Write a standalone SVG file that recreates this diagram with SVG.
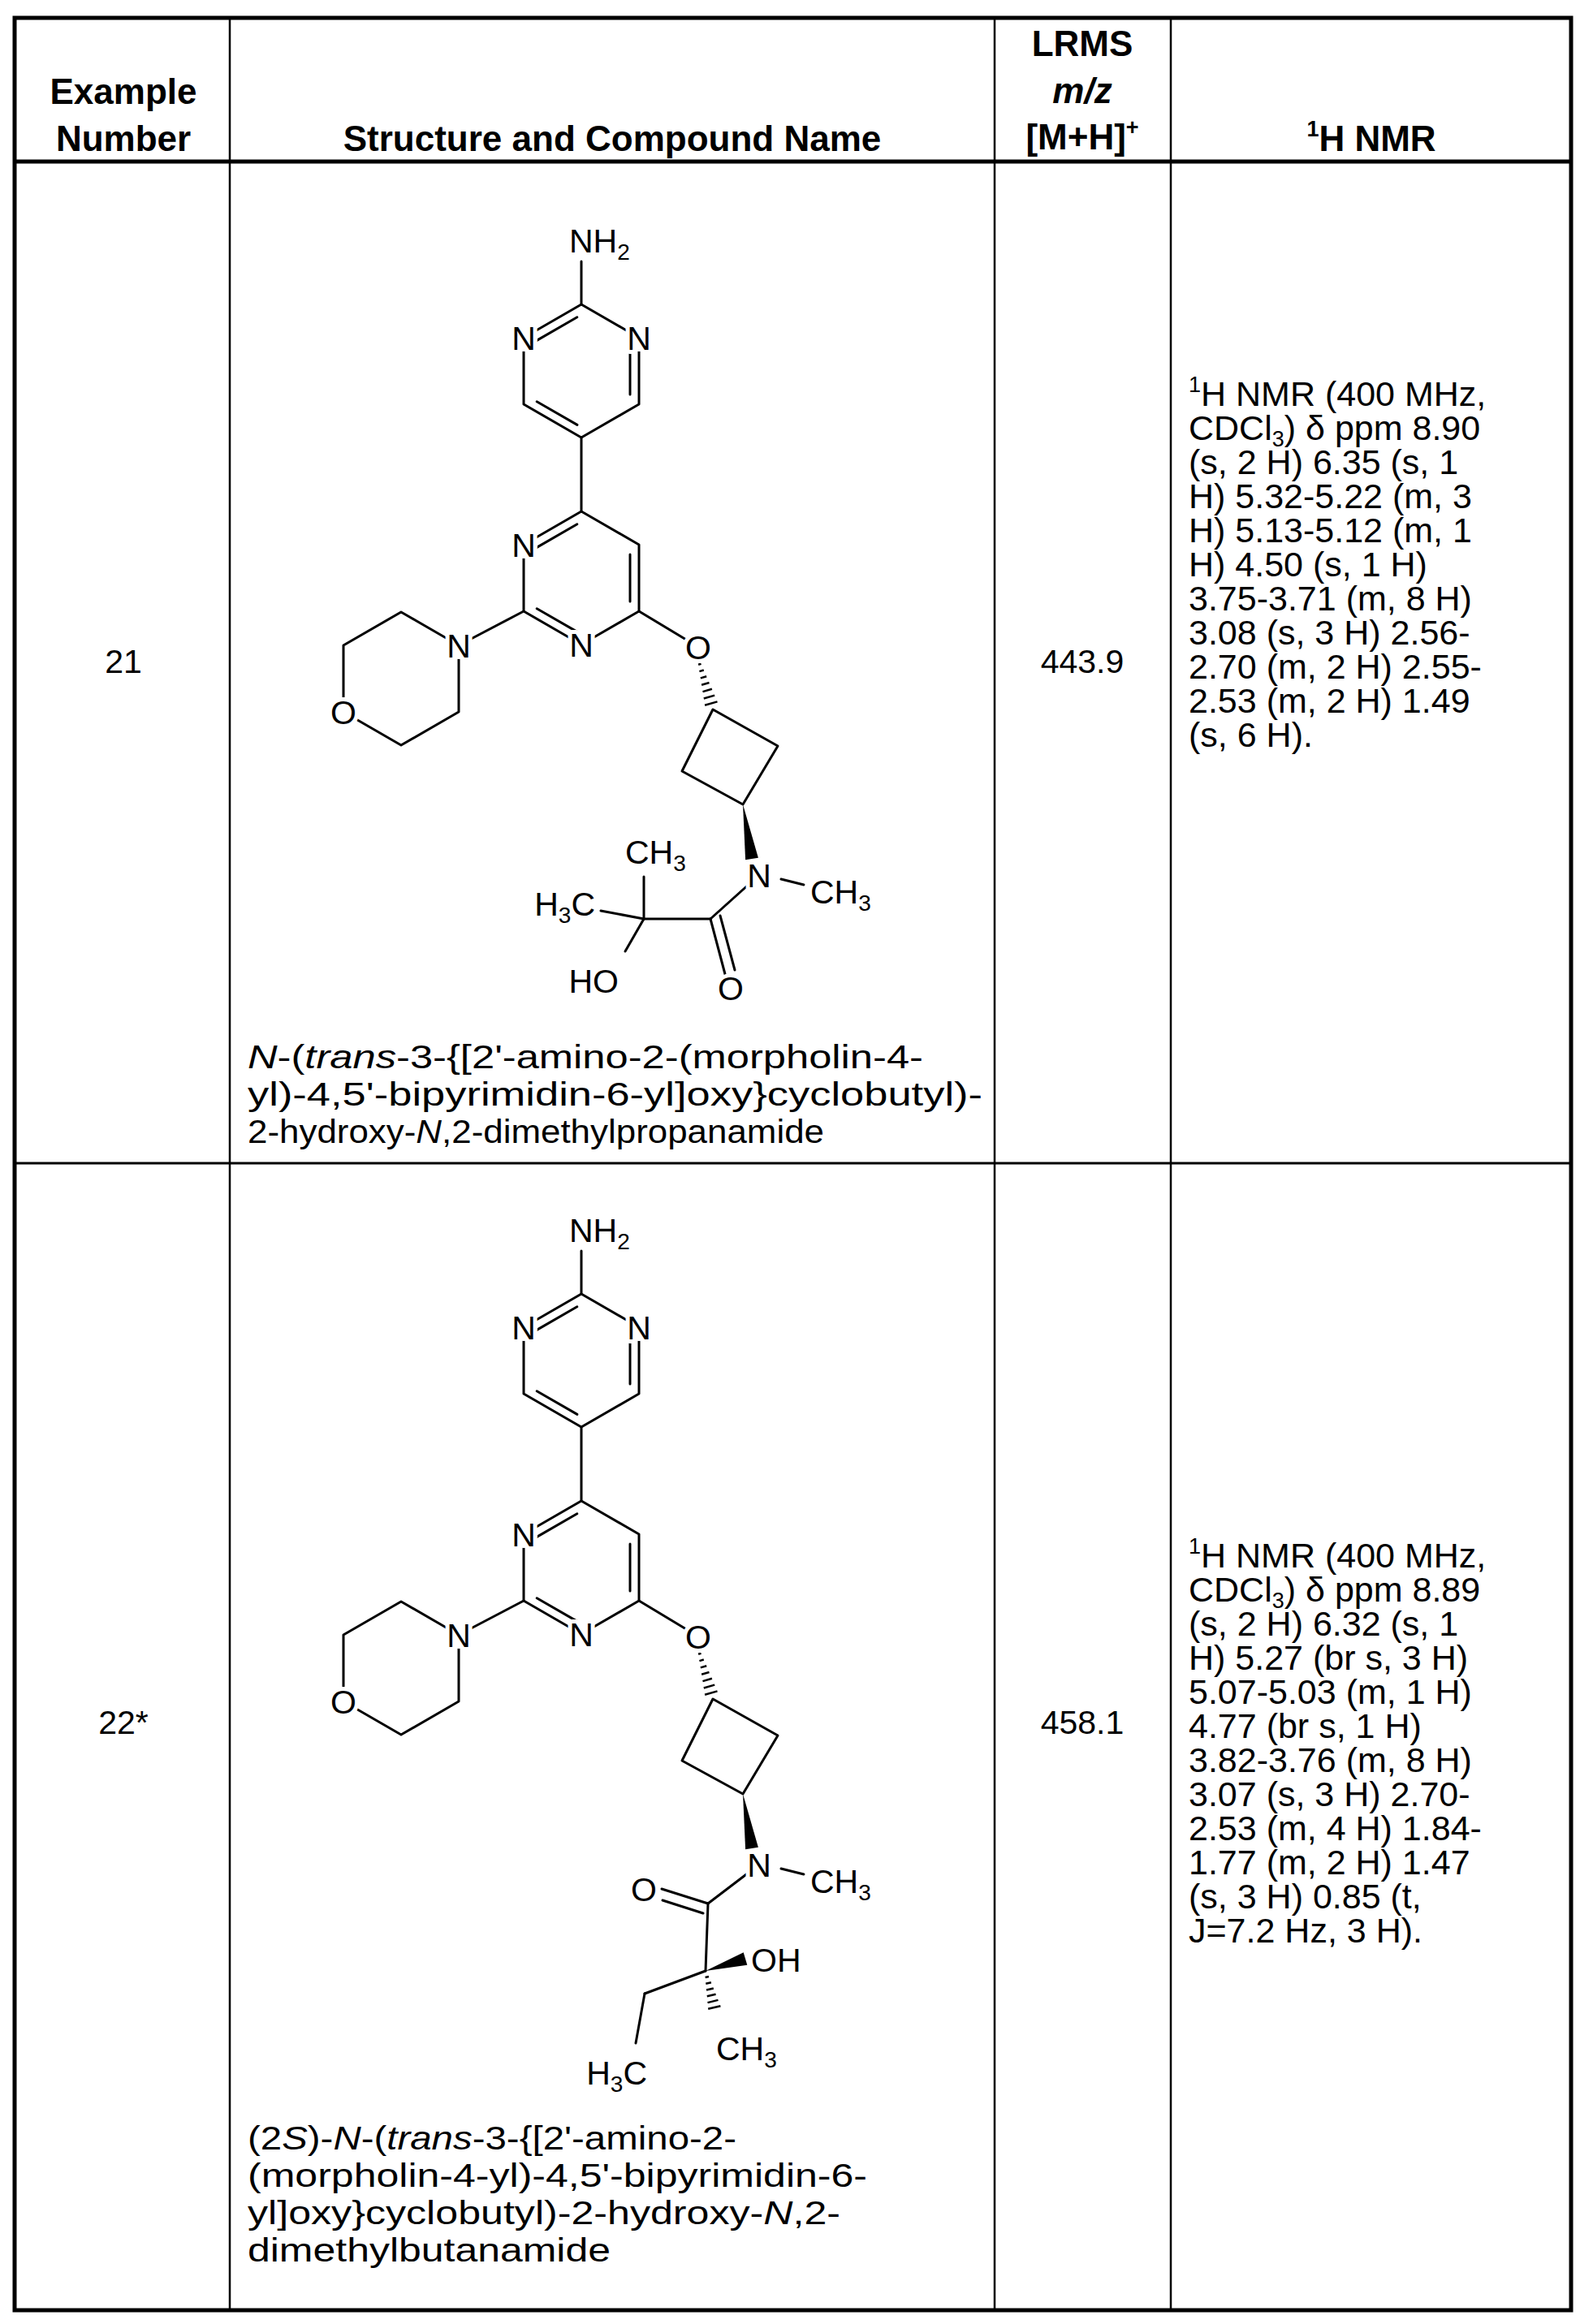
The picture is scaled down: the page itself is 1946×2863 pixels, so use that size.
<svg xmlns="http://www.w3.org/2000/svg" width="1946" height="2863" viewBox="0 0 1946 2863">
<style>
.t{font-family:"Liberation Sans",Arial,sans-serif;fill:#000}
.h{font-family:"Liberation Sans",Arial,sans-serif;font-weight:bold;font-size:44px;text-anchor:middle}
.c{font-size:41px;text-anchor:middle}
.nm{font-size:43px}
.cn{font-size:41px}
.a{font-family:"Liberation Sans",Arial,sans-serif;font-size:41px;fill:#000}
.k{font-family:"Liberation Sans",Arial,sans-serif;font-size:41px;fill:#fff;stroke:#fff;stroke-width:10px;stroke-linejoin:round}
.b{stroke:#000;stroke-width:3;fill:none;stroke-linecap:round;stroke-linejoin:round}
.g{stroke:#000;stroke-width:2.5}
.w{fill:#000;stroke:none}
.bg{fill:#fff;stroke:none}
</style>
<defs>
<g id="top">
<g class="b">
<line x1="716" y1="322" x2="716" y2="375"/>
<polygon points="716,375 645,416 645,498 716,539 787,498 787,416"/>
<line x1="710.8" y1="390.7" x2="661.2" y2="419.4"/>
<line x1="661.2" y1="494.7" x2="710.9" y2="523.4"/>
<line x1="776" y1="428" x2="776" y2="486"/>
<line x1="716" y1="539" x2="716" y2="630"/>
<polygon points="716,630 645,671 645,753 716,794 787,753 787,671"/>
<line x1="710.8" y1="645.7" x2="661.2" y2="674.4"/>
<line x1="776" y1="683" x2="776" y2="741"/>
<line x1="661.2" y1="749.7" x2="710.9" y2="778.4"/>
<line x1="645" y1="753" x2="565" y2="795"/>
<polygon points="494,754 423,795 423,877 494,918 565,877 565,795"/>
<line x1="787" y1="753" x2="860" y2="797"/>
<polygon points="878,874 958,919 915,991 840,950"/>
<line x1="962" y1="1083" x2="990" y2="1090"/>
</g>
<g class="g">
<line x1="860.1" y1="818.7" x2="863.5" y2="817.7"/>
<line x1="861.4" y1="827.1" x2="866.8" y2="825.5"/>
<line x1="862.8" y1="835.4" x2="870.2" y2="833.2"/>
<line x1="864.1" y1="843.8" x2="873.5" y2="841.0"/>
<line x1="865.5" y1="852.1" x2="876.9" y2="848.7"/>
<line x1="866.8" y1="860.5" x2="880.2" y2="856.6"/>
<line x1="868.1" y1="868.8" x2="883.5" y2="864.4"/>
</g>
<polygon class="w" points="915,991 933.9,1056.7 918.1,1059.3"/>
</g>
<g id="topbg" class="bg">
<circle cx="645" cy="416" r="17"/>
<circle cx="787" cy="416" r="17"/>
<circle cx="645" cy="671" r="17"/>
<circle cx="716" cy="794" r="17"/>
<circle cx="565" cy="795" r="17"/>
<circle cx="423" cy="877" r="18"/>
<circle cx="860" cy="797" r="18"/>
<circle cx="935" cy="1078" r="17"/>
</g>
<g id="toplab">
<text x="701" y="311">NH<tspan font-size="28" dy="9">2</tspan></text>
<text x="645" y="431" text-anchor="middle">N</text>
<text x="787" y="431" text-anchor="middle">N</text>
<text x="645" y="686" text-anchor="middle">N</text>
<text x="716" y="809" text-anchor="middle">N</text>
<text x="565" y="810" text-anchor="middle">N</text>
<text x="423" y="892" text-anchor="middle">O</text>
<text x="860" y="812" text-anchor="middle">O</text>
<text x="935" y="1093" text-anchor="middle">N</text>
<text x="998" y="1113">CH<tspan font-size="28" dy="9">3</tspan></text>
</g>
</defs>
<rect x="0" y="0" width="1946" height="2863" fill="#fff"/>
<g id="table" fill="none" stroke="#000">
<rect x="18" y="22" width="1917" height="2824" stroke-width="5"/>
<line x1="18" y1="199" x2="1935" y2="199" stroke-width="5"/>
<line x1="18" y1="1433" x2="1935" y2="1433" stroke-width="3"/>
<line x1="283" y1="22" x2="283" y2="2846" stroke-width="2.5"/>
<line x1="1225" y1="22" x2="1225" y2="2846" stroke-width="2.5"/>
<line x1="1442" y1="22" x2="1442" y2="2846" stroke-width="2.5"/>
</g>
<g id="header">
<text class="h" x="152" y="128">Example</text>
<text class="h" x="152" y="186">Number</text>
<text class="h" x="754" y="186">Structure and Compound Name</text>
<text class="h" x="1333" y="69">LRMS</text>
<text class="h" x="1333" y="127" font-style="italic">m/z</text>
<text class="h" x="1333" y="184">[M+H]<tspan font-size="27" dy="-18">+</tspan></text>
<text class="h" x="1689" y="186"><tspan font-size="27" dy="-18">1</tspan><tspan dy="18">H NMR</tspan></text>
</g>
<g id="row21">
<text class="t c" x="152" y="829">21</text>
<text class="t c" x="1333" y="829">443.9</text>
<text class="t nm" x="1464">
<tspan x="1464" y="500"><tspan font-size="27" dy="-17">1</tspan><tspan dy="17">H NMR (400 MHz,</tspan></tspan>
<tspan x="1464" y="542">CDCl<tspan font-size="27" dy="8">3</tspan><tspan dy="-8">) δ ppm 8.90</tspan></tspan>
<tspan x="1464" y="584">(s, 2 H) 6.35 (s, 1</tspan>
<tspan x="1464" y="626">H) 5.32-5.22 (m, 3</tspan>
<tspan x="1464" y="668">H) 5.13-5.12 (m, 1</tspan>
<tspan x="1464" y="710">H) 4.50 (s, 1 H)</tspan>
<tspan x="1464" y="752">3.75-3.71 (m, 8 H)</tspan>
<tspan x="1464" y="794">3.08 (s, 3 H) 2.56-</tspan>
<tspan x="1464" y="836">2.70 (m, 2 H) 2.55-</tspan>
<tspan x="1464" y="878">2.53 (m, 2 H) 1.49</tspan>
<tspan x="1464" y="920">(s, 6 H).</tspan>
</text>
<text class="t cn" x="305" y="1316" textLength="832" lengthAdjust="spacingAndGlyphs"><tspan font-style="italic">N</tspan>-(<tspan font-style="italic">trans</tspan>-3-{[2'-amino-2-(morpholin-4-</text>
<text class="t cn" x="305" y="1362" textLength="905" lengthAdjust="spacingAndGlyphs">yl)-4,5'-bipyrimidin-6-yl]oxy}cyclobutyl)-</text>
<text class="t cn" x="305" y="1408" textLength="710" lengthAdjust="spacingAndGlyphs">2-hydroxy-<tspan font-style="italic">N</tspan>,2-dimethylpropanamide</text>
</g>
<g id="mol21">
<use href="#top"/>
<g class="b">
<line x1="935" y1="1078" x2="875" y2="1132"/>
<line x1="875" y1="1132" x2="893" y2="1200"/>
<line x1="887" y1="1128" x2="905" y2="1195"/>
<line x1="875" y1="1132" x2="793" y2="1132"/>
<line x1="793" y1="1132" x2="793" y2="1080"/>
<line x1="793" y1="1132" x2="740" y2="1122"/>
<line x1="793" y1="1132" x2="770" y2="1172"/>
</g>
<use href="#topbg"/>
<circle class="bg" cx="900" cy="1217" r="18"/>
<g class="k">
<use href="#toplab"/>
<text x="770" y="1064">CH<tspan font-size="28" dy="9">3</tspan></text>
<text x="733" y="1128" text-anchor="end">H<tspan font-size="28" dy="9">3</tspan><tspan dy="-9">C</tspan></text>
<text x="762" y="1223" text-anchor="end">HO</text>
</g>
<g class="a">
<use href="#toplab"/>
<text x="770" y="1064">CH<tspan font-size="28" dy="9">3</tspan></text>
<text x="733" y="1128" text-anchor="end">H<tspan font-size="28" dy="9">3</tspan><tspan dy="-9">C</tspan></text>
<text x="762" y="1223" text-anchor="end">HO</text>
<text x="900" y="1232" text-anchor="middle">O</text>
</g>
</g>
<g id="row22">
<text class="t c" x="152" y="2136">22*</text>
<text class="t c" x="1333" y="2136">458.1</text>
<text class="t nm" x="1464">
<tspan x="1464" y="1931"><tspan font-size="27" dy="-17">1</tspan><tspan dy="17">H NMR (400 MHz,</tspan></tspan>
<tspan x="1464" y="1973">CDCl<tspan font-size="27" dy="8">3</tspan><tspan dy="-8">) δ ppm 8.89</tspan></tspan>
<tspan x="1464" y="2015">(s, 2 H) 6.32 (s, 1</tspan>
<tspan x="1464" y="2057">H) 5.27 (br s, 3 H)</tspan>
<tspan x="1464" y="2099">5.07-5.03 (m, 1 H)</tspan>
<tspan x="1464" y="2141">4.77 (br s, 1 H)</tspan>
<tspan x="1464" y="2183">3.82-3.76 (m, 8 H)</tspan>
<tspan x="1464" y="2225">3.07 (s, 3 H) 2.70-</tspan>
<tspan x="1464" y="2267">2.53 (m, 4 H) 1.84-</tspan>
<tspan x="1464" y="2309">1.77 (m, 2 H) 1.47</tspan>
<tspan x="1464" y="2351">(s, 3 H) 0.85 (t,</tspan>
<tspan x="1464" y="2393">J=7.2 Hz, 3 H).</tspan>
</text>
<text class="t cn" x="305" y="2648" textLength="602" lengthAdjust="spacingAndGlyphs">(2<tspan font-style="italic">S</tspan>)-<tspan font-style="italic">N</tspan>-(<tspan font-style="italic">trans</tspan>-3-{[2'-amino-2-</text>
<text class="t cn" x="305" y="2694" textLength="763" lengthAdjust="spacingAndGlyphs">(morpholin-4-yl)-4,5'-bipyrimidin-6-</text>
<text class="t cn" x="305" y="2740" textLength="730" lengthAdjust="spacingAndGlyphs">yl]oxy}cyclobutyl)-2-hydroxy-<tspan font-style="italic">N</tspan>,2-</text>
<text class="t cn" x="305" y="2786" textLength="447" lengthAdjust="spacingAndGlyphs">dimethylbutanamide</text>
</g>
<g id="mol22">
<use href="#top" transform="translate(0,1219)"/>
<g class="b">
<line x1="935" y1="2297" x2="872" y2="2345"/>
<line x1="872" y1="2345" x2="815" y2="2327"/>
<line x1="866" y1="2357" x2="816" y2="2341"/>
<line x1="872" y1="2345" x2="869" y2="2428"/>
<line x1="869" y1="2428" x2="794" y2="2456"/>
<line x1="794" y1="2456" x2="783" y2="2517"/>
</g>
<polygon class="w" points="869,2428 920.3,2420.7 915.7,2405.3"/>
<g class="g">
<line x1="868.6" y1="2436.0" x2="873.0" y2="2435.0"/>
<line x1="869.3" y1="2443.8" x2="875.9" y2="2442.2"/>
<line x1="870" y1="2451.5" x2="878.8" y2="2449.5"/>
<line x1="870.8" y1="2459.3" x2="881.6" y2="2456.7"/>
<line x1="871.5" y1="2467.1" x2="884.5" y2="2463.9"/>
<line x1="872.2" y1="2474.8" x2="887.4" y2="2471.2"/>
</g>
<use href="#topbg" transform="translate(0,1219)"/>
<circle class="bg" cx="793" cy="2327" r="18"/>
<g class="k">
<use href="#toplab" transform="translate(0,1219)"/>
<text x="925" y="2429">OH</text>
<text x="882" y="2538">CH<tspan font-size="28" dy="9">3</tspan></text>
<text x="797" y="2568" text-anchor="end">H<tspan font-size="28" dy="9">3</tspan><tspan dy="-9">C</tspan></text>
</g>
<g class="a">
<use href="#toplab" transform="translate(0,1219)"/>
<text x="793" y="2342" text-anchor="middle">O</text>
<text x="925" y="2429">OH</text>
<text x="882" y="2538">CH<tspan font-size="28" dy="9">3</tspan></text>
<text x="797" y="2568" text-anchor="end">H<tspan font-size="28" dy="9">3</tspan><tspan dy="-9">C</tspan></text>
</g>
</g>
</svg>
